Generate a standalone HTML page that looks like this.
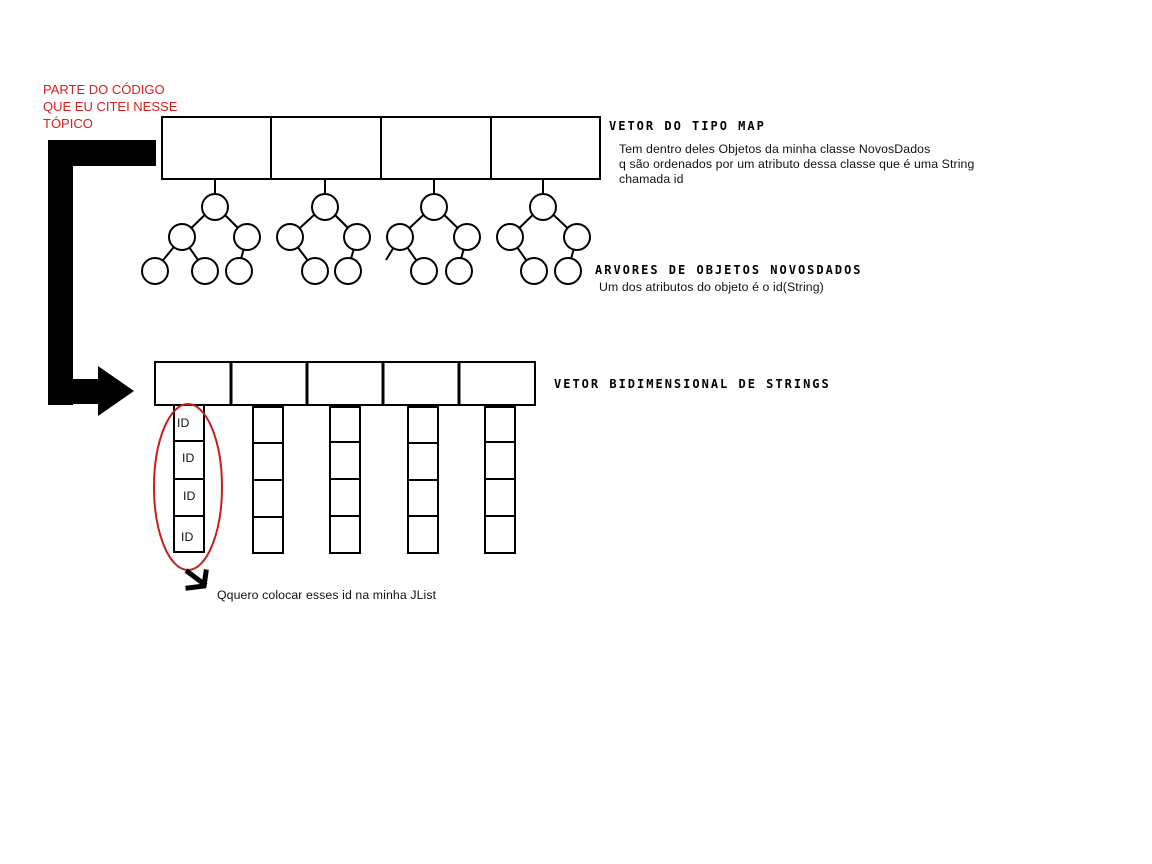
<!DOCTYPE html>
<html><head><meta charset="utf-8"><style>
body{margin:0;background:#fff;width:1152px;height:864px;overflow:hidden;position:relative;font-family:"Liberation Sans",sans-serif}
.t{position:absolute;font-size:12.3px;letter-spacing:0.1px;color:#111;line-height:15px;white-space:nowrap}
.h{position:absolute;font-family:"DejaVu Sans Mono",monospace;font-weight:bold;font-size:12px;letter-spacing:2px;color:#000;white-space:nowrap;line-height:12px}
.r{color:#d42020;font-size:13px;letter-spacing:0;line-height:17px}
</style></head><body>
<svg width="1152" height="864" style="position:absolute;left:0;top:0">
<g fill="none" stroke="#000" stroke-width="2">
<rect x="162" y="117" width="438" height="62"/>
<line x1="271" y1="117" x2="271" y2="179"/><line x1="381" y1="117" x2="381" y2="179"/><line x1="491" y1="117" x2="491" y2="179"/>
<line x1="215" y1="179" x2="215" y2="193"/>
<line x1="215" y1="205" x2="182" y2="237"/><line x1="215" y1="205" x2="247" y2="237"/>
<line x1="182" y1="237" x2="155" y2="270"/><line x1="182" y1="237" x2="205" y2="270"/><line x1="247" y1="237" x2="238" y2="270"/>
<line x1="325" y1="179" x2="325" y2="193"/>
<line x1="325" y1="205" x2="290" y2="237"/><line x1="325" y1="205" x2="357" y2="237"/>
<line x1="290" y1="237" x2="315" y2="270"/><line x1="357" y1="237" x2="348" y2="270"/>
<line x1="434" y1="179" x2="434" y2="193"/>
<line x1="434" y1="205" x2="400" y2="237"/><line x1="434" y1="205" x2="467" y2="237"/>
<line x1="400" y1="237" x2="423" y2="270"/><line x1="467" y1="237" x2="458" y2="270"/><line x1="400" y1="237" x2="386" y2="260"/>
<line x1="543" y1="179" x2="543" y2="193"/>
<line x1="543" y1="205" x2="510" y2="237"/><line x1="543" y1="205" x2="577" y2="237"/>
<line x1="510" y1="237" x2="533" y2="270"/><line x1="577" y1="237" x2="568" y2="270"/>
</g>
<g fill="#fff" stroke="#000" stroke-width="2">
<circle cx="215" cy="207" r="13"/><circle cx="182" cy="237" r="13"/><circle cx="247" cy="237" r="13"/><circle cx="155" cy="271" r="13"/><circle cx="205" cy="271" r="13"/><circle cx="239" cy="271" r="13"/>
<circle cx="325" cy="207" r="13"/><circle cx="290" cy="237" r="13"/><circle cx="357" cy="237" r="13"/><circle cx="315" cy="271" r="13"/><circle cx="348" cy="271" r="13"/>
<circle cx="434" cy="207" r="13"/><circle cx="400" cy="237" r="13"/><circle cx="467" cy="237" r="13"/><circle cx="424" cy="271" r="13"/><circle cx="459" cy="271" r="13"/>
<circle cx="543" cy="207" r="13"/><circle cx="510" cy="237" r="13"/><circle cx="577" cy="237" r="13"/><circle cx="534" cy="271" r="13"/><circle cx="568" cy="271" r="13"/>
</g>
<g fill="#000">
<rect x="48" y="140" width="108" height="26"/>
<rect x="48" y="140" width="25" height="265"/>
<rect x="48" y="379" width="55" height="25"/>
<polygon points="98,366 134,391 98,416"/>
</g>
<g fill="none" stroke="#000" stroke-width="2">
<rect x="155" y="362" width="380" height="43"/>
</g>
<g stroke="#000" stroke-width="3">
<line x1="231" y1="362" x2="231" y2="405"/><line x1="307" y1="362" x2="307" y2="405"/><line x1="383" y1="362" x2="383" y2="405"/><line x1="459" y1="362" x2="459" y2="405"/>
</g>
<g fill="none" stroke="#000" stroke-width="2">
<rect x="174" y="405" width="30" height="147"/>
<line x1="174" y1="441" x2="204" y2="441"/><line x1="174" y1="479" x2="204" y2="479"/><line x1="174" y1="516" x2="204" y2="516"/>
<rect x="253" y="407" width="30" height="146"/>
<line x1="253" y1="443" x2="283" y2="443"/><line x1="253" y1="480" x2="283" y2="480"/><line x1="253" y1="517" x2="283" y2="517"/>
<rect x="330" y="407" width="30" height="146"/>
<line x1="330" y1="442" x2="360" y2="442"/><line x1="330" y1="479" x2="360" y2="479"/><line x1="330" y1="516" x2="360" y2="516"/>
<rect x="408" y="407" width="30" height="146"/>
<line x1="408" y1="443" x2="438" y2="443"/><line x1="408" y1="480" x2="438" y2="480"/><line x1="408" y1="516" x2="438" y2="516"/>
<rect x="485" y="407" width="30" height="146"/>
<line x1="485" y1="442" x2="515" y2="442"/><line x1="485" y1="479" x2="515" y2="479"/><line x1="485" y1="516" x2="515" y2="516"/>
</g>
<ellipse cx="188" cy="487" rx="34" ry="83" fill="none" stroke="#c42020" stroke-width="2"/>
<g stroke="#000" stroke-width="5" fill="none" stroke-linecap="square">
<path d="M188 572 L204 584"/><path d="M206 572 L204 586 L188 588"/>
</g>
</svg>
<div class="t r" style="left:43px;top:81px">PARTE DO CÓDIGO<br>QUE EU CITEI NESSE<br>TÓPICO</div>
<div class="h" style="left:609px;top:120px">VETOR DO TIPO MAP</div>
<div class="t" style="left:619px;top:142px">Tem dentro deles Objetos da minha classe NovosDados<br>q são ordenados por um atributo dessa classe que é uma String<br>chamada id</div>
<div class="h" style="left:595px;top:264px">ARVORES DE OBJETOS NOVOSDADOS</div>
<div class="t" style="left:599px;top:280px">Um dos atributos do objeto é o id(String)</div>
<div class="h" style="left:554px;top:378px">VETOR BIDIMENSIONAL DE STRINGS</div>
<div class="t" style="left:177px;top:416px">ID</div>
<div class="t" style="left:182px;top:451px">ID</div>
<div class="t" style="left:183px;top:489px">ID</div>
<div class="t" style="left:181px;top:530px">ID</div>
<div class="t" style="left:217px;top:588px">Qquero colocar esses id na minha JList</div>
</body></html>
